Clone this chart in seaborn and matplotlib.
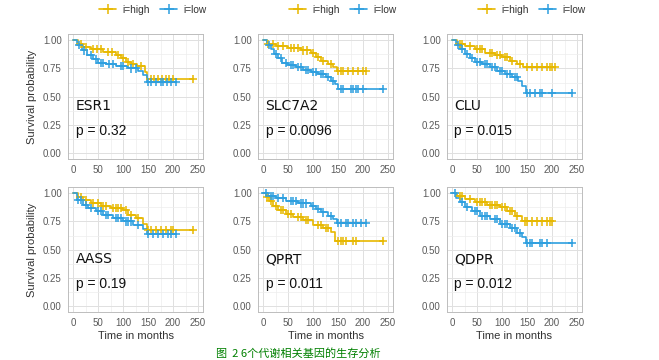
import numpy as np
import pandas as pd
import matplotlib
matplotlib.use("Agg")
import matplotlib.pyplot as plt
from matplotlib.lines import Line2D
import seaborn as sns

GENES = ["ESR1", "SLC7A2", "CLU", "AASS", "QPRT", "QDPR"]
P_VALUES = ["0.32", "0.0096", "0.015", "0.19", "0.011", "0.012"]
GROUPS = ["i=high", "i=low"]
COLORS = {"i=high": "#E7B800", "i=low": "#2E9FDF"}
X_TICKS = [0, 50, 100, 150, 200, 250]
Y_TICKS = [0.0, 0.25, 0.5, 0.75, 1.0]
Y_TICK_LABELS = ["0.00", "0.25", "0.50", "0.75", "1.00"]

# step times / survival levels, last follow-up time, censor times
ESR1_HIGH_T = [0, 10, 20, 35, 60, 85, 95, 105, 115, 128, 143, 148]
ESR1_HIGH_S = [1.00, 0.97, 0.94, 0.92, 0.90, 0.87, 0.84, 0.81, 0.79, 0.77, 0.72, 0.66]
ESR1_HIGH_END = 240
ESR1_HIGH_C = [15, 25, 40, 48, 55, 70, 78, 90, 100, 110, 120, 135, 155, 162, 170, 178, 185, 192, 200, 240]
ESR1_LOW_T = [0, 8, 18, 28, 40, 50, 65, 85, 110, 130, 140, 147]
ESR1_LOW_S = [1.00, 0.96, 0.91, 0.87, 0.83, 0.80, 0.79, 0.77, 0.75, 0.73, 0.69, 0.63]
ESR1_LOW_END = 205
ESR1_LOW_C = [12, 22, 35, 45, 55, 60, 72, 80, 95, 100, 115, 125, 150, 155, 165, 175, 180, 188, 195, 205]

SLC7A2_HIGH_T = [0, 8, 25, 50, 75, 95, 105, 115, 130, 140, 148]
SLC7A2_HIGH_S = [1.00, 0.97, 0.95, 0.93, 0.91, 0.89, 0.85, 0.82, 0.79, 0.76, 0.73]
SLC7A2_HIGH_END = 205
SLC7A2_HIGH_C = [10, 20, 30, 40, 55, 62, 70, 80, 88, 100, 110, 120, 135, 150, 155, 160, 170, 180, 190, 200, 205]
SLC7A2_LOW_T = [0, 8, 15, 22, 30, 38, 50, 65, 80, 95, 110, 125, 135, 143, 150]
SLC7A2_LOW_S = [1.00, 0.96, 0.92, 0.88, 0.84, 0.80, 0.78, 0.76, 0.74, 0.72, 0.70, 0.67, 0.64, 0.61, 0.57]
SLC7A2_LOW_END = 240
SLC7A2_LOW_C = [12, 25, 35, 45, 55, 60, 70, 75, 85, 90, 100, 105, 115, 120, 130, 140, 155, 160, 175, 180, 185, 190, 200, 240]

CLU_HIGH_T = [0, 10, 25, 45, 65, 85, 100, 115, 130, 142]
CLU_HIGH_S = [1.00, 0.97, 0.95, 0.92, 0.89, 0.87, 0.85, 0.82, 0.79, 0.76]
CLU_HIGH_END = 205
CLU_HIGH_C = [15, 20, 35, 50, 55, 60, 75, 80, 90, 95, 105, 110, 120, 135, 150, 160, 170, 180, 190, 195, 200, 205]
CLU_LOW_T = [0, 8, 15, 25, 35, 45, 60, 75, 90, 105, 120, 132, 140, 147]
CLU_LOW_S = [1.00, 0.96, 0.92, 0.88, 0.84, 0.81, 0.79, 0.76, 0.73, 0.70, 0.67, 0.64, 0.59, 0.53]
CLU_LOW_END = 240
CLU_LOW_C = [12, 20, 30, 40, 50, 55, 65, 70, 80, 85, 95, 100, 110, 115, 125, 130, 150, 155, 165, 175, 180, 200, 240]

AASS_HIGH_T = [0, 10, 20, 35, 55, 75, 100, 110, 125, 140, 147]
AASS_HIGH_S = [1.00, 0.97, 0.94, 0.91, 0.89, 0.87, 0.85, 0.81, 0.78, 0.73, 0.67]
AASS_HIGH_END = 240
AASS_HIGH_C = [15, 25, 40, 50, 60, 65, 80, 85, 90, 95, 105, 115, 130, 150, 155, 165, 175, 185, 195, 200, 240]
AASS_LOW_T = [0, 8, 20, 30, 45, 60, 80, 100, 120, 140, 147]
AASS_LOW_S = [1.00, 0.94, 0.90, 0.87, 0.84, 0.81, 0.78, 0.75, 0.72, 0.68, 0.64]
AASS_LOW_END = 205
AASS_LOW_C = [10, 15, 25, 35, 50, 55, 65, 70, 85, 90, 95, 105, 110, 115, 130, 150, 160, 170, 180, 190, 195, 205]

QPRT_HIGH_T = [0, 5, 12, 20, 30, 45, 60, 80, 100, 120, 135, 143]
QPRT_HIGH_S = [1.00, 0.97, 0.93, 0.89, 0.85, 0.82, 0.79, 0.76, 0.72, 0.69, 0.66, 0.58]
QPRT_HIGH_END = 240
QPRT_HIGH_C = [8, 15, 25, 35, 40, 50, 55, 70, 75, 85, 90, 110, 115, 125, 130, 150, 155, 160, 165, 180, 185, 240]
QPRT_LOW_T = [0, 10, 25, 45, 70, 95, 105, 115, 130, 140, 147]
QPRT_LOW_S = [1.00, 0.98, 0.96, 0.93, 0.91, 0.89, 0.86, 0.83, 0.80, 0.77, 0.74]
QPRT_LOW_END = 205
QPRT_LOW_C = [5, 15, 20, 30, 40, 55, 60, 65, 75, 80, 85, 100, 110, 120, 135, 150, 155, 165, 170, 180, 185, 195, 205]

QDPR_HIGH_T = [0, 10, 25, 45, 70, 95, 110, 125, 140]
QDPR_HIGH_S = [1.00, 0.98, 0.95, 0.92, 0.90, 0.88, 0.84, 0.80, 0.75]
QDPR_HIGH_END = 200
QDPR_HIGH_C = [15, 20, 35, 50, 55, 60, 65, 75, 80, 85, 90, 100, 105, 115, 120, 130, 145, 150, 160, 170, 180, 190, 195, 200]
QDPR_LOW_T = [0, 8, 15, 25, 40, 55, 75, 95, 115, 130, 140, 148]
QDPR_LOW_S = [1.00, 0.96, 0.92, 0.88, 0.84, 0.80, 0.77, 0.73, 0.69, 0.65, 0.61, 0.56]
QDPR_LOW_END = 240
QDPR_LOW_C = [5, 20, 30, 45, 50, 60, 65, 70, 85, 90, 100, 105, 110, 120, 125, 135, 150, 155, 160, 175, 180, 190, 240]

CURVES = {
    ("ESR1", "i=high"): (ESR1_HIGH_T, ESR1_HIGH_S, ESR1_HIGH_END, ESR1_HIGH_C),
    ("ESR1", "i=low"): (ESR1_LOW_T, ESR1_LOW_S, ESR1_LOW_END, ESR1_LOW_C),
    ("SLC7A2", "i=high"): (SLC7A2_HIGH_T, SLC7A2_HIGH_S, SLC7A2_HIGH_END, SLC7A2_HIGH_C),
    ("SLC7A2", "i=low"): (SLC7A2_LOW_T, SLC7A2_LOW_S, SLC7A2_LOW_END, SLC7A2_LOW_C),
    ("CLU", "i=high"): (CLU_HIGH_T, CLU_HIGH_S, CLU_HIGH_END, CLU_HIGH_C),
    ("CLU", "i=low"): (CLU_LOW_T, CLU_LOW_S, CLU_LOW_END, CLU_LOW_C),
    ("AASS", "i=high"): (AASS_HIGH_T, AASS_HIGH_S, AASS_HIGH_END, AASS_HIGH_C),
    ("AASS", "i=low"): (AASS_LOW_T, AASS_LOW_S, AASS_LOW_END, AASS_LOW_C),
    ("QPRT", "i=high"): (QPRT_HIGH_T, QPRT_HIGH_S, QPRT_HIGH_END, QPRT_HIGH_C),
    ("QPRT", "i=low"): (QPRT_LOW_T, QPRT_LOW_S, QPRT_LOW_END, QPRT_LOW_C),
    ("QDPR", "i=high"): (QDPR_HIGH_T, QDPR_HIGH_S, QDPR_HIGH_END, QDPR_HIGH_C),
    ("QDPR", "i=low"): (QDPR_LOW_T, QDPR_LOW_S, QDPR_LOW_END, QDPR_LOW_C),
}

W, H = 659, 360
PANEL_LEFT = [68, 258, 447]
PANEL_TOP = [34.4, 187.4]
PANEL_W, PANEL_H = 135, 124.3


def build_frames(gene):
    lines, cens = [], []
    for g in GROUPS:
        t, s, end, c = CURVES[(gene, g)]
        tt = list(t) + [end]
        ss = list(s) + [s[-1]]
        lines.append(pd.DataFrame({"time": tt, "surv": ss, "group": g}))
        idx = np.searchsorted(np.array(t), np.array(c), side="right") - 1
        cens.append(pd.DataFrame({"time": c, "surv": np.array(s)[idx], "group": g}))
    return pd.concat(lines, ignore_index=True), pd.concat(cens, ignore_index=True)


def style_axes(ax):
    ax.set_xlim(-10, 260)
    ax.set_ylim(-0.053, 1.053)
    ax.set_xticks(X_TICKS)
    ax.set_xticks([25, 75, 125, 175, 225], minor=True)
    ax.set_yticks(Y_TICKS)
    ax.set_yticklabels(Y_TICK_LABELS)
    ax.set_yticks([0.125, 0.375, 0.625, 0.875], minor=True)
    ax.grid(which="major", color="#E0E0E0", lw=0.7)
    ax.grid(which="minor", color="#EDEDED", lw=0.5)
    ax.set_axisbelow(True)
    for sp in ax.spines.values():
        sp.set_color("#BDBDBD")
        sp.set_linewidth(0.7)
    ax.tick_params(which="major", length=2.5, width=0.6, color="#B3B3B3",
                   labelsize=7, labelcolor="#5A5A5A", pad=2)
    ax.tick_params(which="minor", length=0)
    ax.set_xlabel("")
    ax.set_ylabel("")


def main():
    sns.set_style("white")
    plt.rcParams["font.family"] = ["Liberation Sans", "DejaVu Sans"]

    fig = plt.figure(figsize=(W / 100, H / 100), dpi=100)

    for i, gene in enumerate(GENES):
        row, col = divmod(i, 3)
        left = PANEL_LEFT[col] / W
        bottom = 1 - (PANEL_TOP[row] + PANEL_H) / H
        ax = fig.add_axes([left, bottom, PANEL_W / W, PANEL_H / H])

        df_line, df_cens = build_frames(gene)
        sns.lineplot(data=df_line, x="time", y="surv", hue="group", palette=COLORS,
                     drawstyle="steps-post", estimator=None, sort=False,
                     legend=False, lw=1.2, ax=ax)
        sns.scatterplot(data=df_cens, x="time", y="surv", hue="group", palette=COLORS,
                        marker="+", s=34, linewidth=1.1, legend=False, ax=ax, zorder=3)
        style_axes(ax)

        ax.text(5, 0.415, gene, fontsize=10, family="DejaVu Sans", va="center", color="#111111")
        ax.text(5, 0.19, f"p = {P_VALUES[i]}", fontsize=10, va="center", color="#111111")

        if col == 0:
            ax.set_ylabel("Survival probability", fontsize=8, color="#333333", labelpad=4)
        if row == 1:
            ax.set_xlabel("Time in months", fontsize=8, color="#333333", labelpad=2)
        if row == 0:
            handles = [Line2D([], [], color=COLORS[g], marker="+", ms=7, mew=1.1, lw=1.2)
                       for g in GROUPS]
            fig.legend(handles, GROUPS, loc="center",
                       bbox_to_anchor=((PANEL_LEFT[col] + 85) / W, 1 - 10 / H),
                       ncol=2, frameon=False, fontsize=7.3, handlelength=1.7,
                       columnspacing=1.0, handletextpad=0.6, labelcolor="#333333")

    fig.text(298 / W, 1 - 353 / H, "图  2 6个代谢相关基因的生存分析", color="#008000",
             fontsize=8, family=["Noto Sans CJK SC", "DejaVu Sans"],
             ha="center", va="center")

    fig.savefig("out.png", dpi=100)
    plt.close(fig)


if __name__ == "__main__":
    main()
